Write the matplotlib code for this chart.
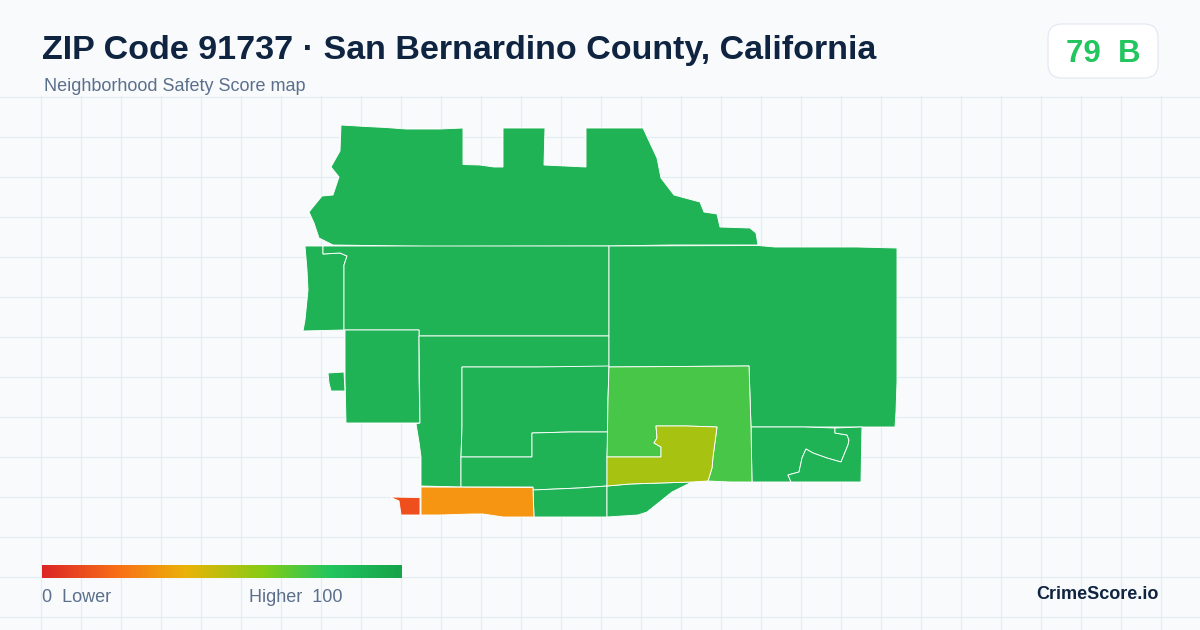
import matplotlib
matplotlib.use("Agg")
import matplotlib.pyplot as plt
import numpy as np
from matplotlib.colors import LinearSegmentedColormap
from matplotlib.patches import FancyBboxPatch, Polygon

# region outlines in pixels
north = [(341, 125), (366, 126.5), (386, 127.5), (406, 129), (440, 129), (463, 128), (463, 164.5), (480, 165),
         (494, 167), (503, 167), (503, 128), (545, 128), (544, 165), (565, 166), (586, 167), (586, 128), (643, 128),
         (650, 143), (657, 158), (661, 178), (674, 195), (700, 202), (704, 212), (717, 214), (720, 227), (750, 228),
         (756, 233), (758, 245), (671, 245), (609, 246), (432, 246.5), (367, 245.5), (333, 245), (319, 238),
         (314, 223), (309, 212), (322, 196), (333, 195), (339, 177), (331, 167), (340, 151)]
west_strip = [(305, 246), (323, 246), (323, 254), (340, 253), (347, 256), (344, 265), (344, 330), (303, 331),
              (305, 320), (308, 290), (307, 270)]
northwest = [(323, 246), (609, 246), (609, 336), (419, 336), (419, 330), (344, 330), (344, 265), (347, 256),
             (340, 253), (323, 254)]
west_mid = [(345, 330), (419, 330), (419, 377), (420, 423), (346, 423), (345, 380)]
island = [(328, 373), (344, 372), (345, 391), (331, 391), (329, 383)]
central = [(419, 336), (609, 336), (609, 367), (462, 367), (462, 427), (461, 457), (461, 487), (421, 486),
           (421, 457), (419, 442), (416, 424), (420, 423)]
inner = [(462, 367), (536, 367), (609, 366), (608, 400), (608, 432), (570, 432), (532, 433), (532, 457), (461, 457),
         (462, 427)]
lower = [(461, 457), (532, 457), (532, 433), (570, 432), (608, 432), (607, 457), (607, 486), (579, 488), (533, 490),
         (533, 487), (461, 487)]
orange = [(421, 487), (533, 487.5), (533, 490), (534, 517), (503, 517), (483, 514), (472, 514), (440, 515), (421, 515)]
red = [(390, 497), (420, 497.5), (420, 515), (401, 515), (399, 501)]
south_a = [(533, 490), (579, 488), (607, 486), (607, 517), (534, 517)]
south_b = [(607, 486), (630, 484), (660, 483), (692, 482), (672, 492), (647, 512), (638, 515), (607, 517)]
yellow = [(607, 486), (607, 457), (661, 457), (661, 447), (654, 443), (657, 438), (656, 426), (686, 426), (717, 427),
          (713, 457), (712, 468), (708, 481), (692, 482), (660, 483), (630, 484)]
light = [(609, 367), (749, 366), (750, 397), (751, 427), (752, 482), (730, 482), (708, 481), (712, 468), (713, 457),
         (717, 427), (686, 426), (656, 426), (657, 438), (654, 443), (661, 447), (661, 457), (607, 457), (608, 400)]
east = [(609, 246), (758, 245.5), (775, 247), (857, 247), (897, 248), (897, 382), (896, 412), (895, 427), (862, 427),
        (804, 427), (751, 427), (750, 397), (749, 366), (609, 367), (609, 336)]
se_west = [(751, 427), (804, 427), (835, 428), (835, 433), (847, 435), (849, 440), (848, 445), (841, 462), (827, 458),
           (813, 453), (806, 449), (802, 458), (799, 472), (788, 475), (791, 482), (752, 482)]
se_east = [(835, 428), (862, 427), (861, 482), (791, 482), (788, 475), (799, 472), (802, 458), (806, 449), (813, 453),
           (827, 458), (841, 462), (848, 445), (849, 440), (847, 435), (835, 433)]

green = "#1fb356"
regions = [north, west_strip, northwest, west_mid, island, central, inner, lower, south_a, south_b, east, se_west,
           se_east, light, orange, red, yellow]
region_colors = [green] * 13 + ["#47c647", "#f59511", "#ef4f1c", "#a8c211"]

legend_stops = [0, 0.22, 0.4, 0.62, 0.8, 1]
legend_colors = ["#dc2626", "#f97316", "#eab308", "#84cc16", "#22c55e", "#16a34a"]

title = "ZIP Code 91737 · San Bernardino County, California"
subtitle = "Neighborhood Safety Score map"
score = "79  B"

plt.rcParams["font.family"] = ["Liberation Sans", "DejaVu Sans"]

fig = plt.figure(figsize=(12, 6.3), dpi=100)
ax = fig.add_axes([0, 0, 1, 1])
ax.set_xlim(0, 1200)
ax.set_ylim(630, 0)
ax.axis("off")
fig.patch.set_facecolor("#f8fafc")

# background grid, only below the header
for x in np.arange(40.5, 1200, 40):
    ax.plot([x, x], [96, 630], color="#e4edf1", lw=0.8, zorder=1)
for y in np.arange(96.5, 630, 40):
    ax.plot([0, 1200], [y, y], color="#e4edf1", lw=0.8, zorder=1)

for outline, color in zip(regions, region_colors):
    ax.add_patch(Polygon(outline, closed=True, facecolor=color, edgecolor="white", lw=0.65, zorder=2))

ax.text(42, 59.5, title, fontsize=24.5, fontweight="bold", color="#0f2440", va="baseline", ha="left")
ax.text(44, 91, subtitle, fontsize=12.95, color="#5b6f8c", va="baseline", ha="left")

ax.add_patch(FancyBboxPatch((1062, 38), 82, 26, boxstyle="round,pad=14,rounding_size=14", facecolor="white",
                            edgecolor="#e2e8f0", lw=0.8, zorder=2))
ax.text(1065.5, 61.5, score, fontsize=22.5, fontweight="bold", color="#22c55e", va="baseline", ha="left", zorder=3)

cmap = LinearSegmentedColormap.from_list("score", list(zip(legend_stops, legend_colors)))
ax.imshow(np.linspace(0, 1, 360).reshape(1, -1), cmap=cmap, extent=(42, 402, 578, 565), aspect="auto", zorder=3)
ax.set_xlim(0, 1200)
ax.set_ylim(630, 0)

ax.text(42, 602.5, "0  Lower", fontsize=12.95, color="#5b6f8c", va="baseline", ha="left")
ax.text(249, 602.5, "Higher  100", fontsize=12.95, color="#5b6f8c", va="baseline", ha="left")
ax.text(1158.5, 599, "CrimeScore.io", fontsize=13, fontweight="bold", color="#0f2440", va="baseline", ha="right")

fig.savefig("out.png", dpi=100, facecolor=fig.get_facecolor())
